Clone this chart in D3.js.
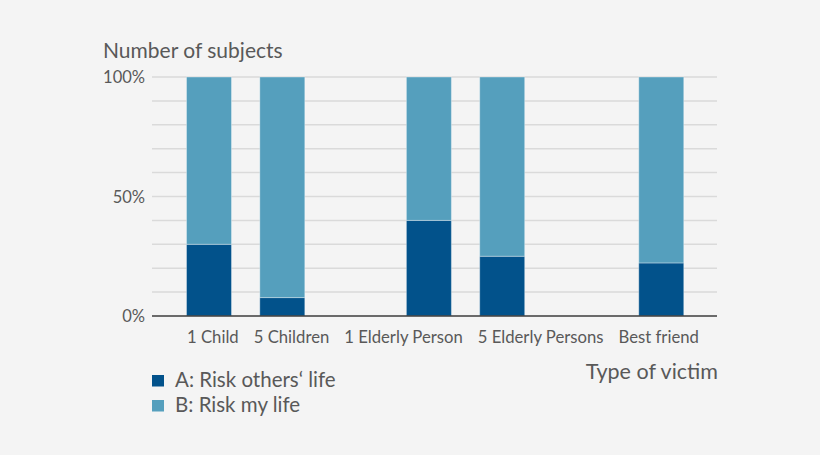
<!DOCTYPE html>
<html>
<head>
<meta charset="utf-8">
<script src="https://cdn.jsdelivr.net/npm/d3@7"></script>
<style>
  html, body { margin: 0; padding: 0; background: #f4f4f4; }
  svg { display: block; }
</style>
</head>
<body>
<svg id="chart"></svg>
<script>
// chart data
const categories = ["1 Child", "5 Children", "1 Elderly Person", "5 Elderly Persons", "Best friend"];
const riskOthers = [30, 7.7, 40, 25, 22.2];   // A, percent
const riskMine = [70, 92.3, 60, 75, 77.8];    // B, percent
const yTicks = [0, 50, 100];
const seriesNames = ["A: Risk others\u2018 life", "B: Risk my life"];

const width = 820, height = 455;
const colors = { a: "#02528b", b: "#559fbd", grid: "#dadada", axis: "#3c3c3c", text: "#595959" };
const font = "Lato, 'Open Sans', sans-serif";

// bars sit in uneven slots (gaps between groups), laid out by hand in the original
const slotOf = [0, 1, 3, 4, 6.17];

const svg = d3.select("#chart")
    .attr("width", width)
    .attr("height", height)
    .style("background-color", "#f4f4f4");

const y = d3.scaleLinear().domain([0, 100]).range([316, 77]);
const x = d3.scaleLinear().domain([0, 1]).range([209, 282.3]);
const barW = 45;

// grid lines every 10%
const grid = svg.append("g");
grid.selectAll("line")
    .data(d3.range(10, 101, 10))
    .enter().append("line")
    .attr("x1", 152).attr("x2", 717)
    .attr("y1", d => y(d)).attr("y2", d => y(d))
    .style("stroke", colors.grid)
    .style("stroke-width", 1.5);

// stacked bars
const stacked = d3.stack().keys(["a", "b"])(
    categories.map((c, i) => ({ cat: c, a: riskOthers[i], b: riskMine[i], i: i })));

const bars = svg.append("g");
stacked.forEach(function(layer) {
  bars.append("g")
      .selectAll("rect")
      .data(layer)
      .enter().append("rect")
      .attr("x", d => x(slotOf[d.data.i]) - barW / 2)
      .attr("width", barW)
      .attr("y", d => y(d[1]))
      .attr("height", d => y(d[0]) - y(d[1]))
      .style("fill", colors[layer.key])
      .style("stroke", "rgba(255,255,255,0.35)")
      .style("stroke-width", 1);
});

// baseline
svg.append("line")
    .attr("x1", 152).attr("x2", 717)
    .attr("y1", y(0)).attr("y2", y(0))
    .style("stroke", colors.axis)
    .style("stroke-width", 1.5);

// y tick labels
svg.append("g").selectAll("text")
    .data(yTicks)
    .enter().append("text")
    .attr("x", 145)
    .attr("y", d => y(d) + 6)
    .attr("text-anchor", "end")
    .text(d => d + "%")
    .style("fill", colors.text)
    .style("font-family", font)
    .style("font-size", "16.5px");

// category labels, flowed left to right under the chart
const labels = svg.append("g");
let cursor = 187;
categories.forEach(function(c) {
  const t = labels.append("text")
      .attr("x", cursor)
      .attr("y", 343)
      .text(c)
      .style("fill", colors.text)
      .style("font-family", font)
      .style("font-size", "16.7px");
  cursor += t.node().getComputedTextLength() + 15;
});

// axis titles
svg.append("text")
    .attr("x", 103).attr("y", 58)
    .text("Number of subjects")
    .style("fill", colors.text)
    .style("font-family", font)
    .style("font-size", "21px");

svg.append("text")
    .attr("x", 718).attr("y", 379)
    .attr("text-anchor", "end")
    .text("Type of victim")
    .style("fill", colors.text)
    .style("font-family", font)
    .style("font-size", "21.5px");

// legend
const legend = svg.append("g");
seriesNames.forEach(function(name, i) {
  legend.append("rect")
      .attr("x", 152).attr("y", 375 + i * 25)
      .attr("width", 12).attr("height", 11.5)
      .style("fill", i === 0 ? colors.a : colors.b);
  legend.append("text")
      .attr("x", 175).attr("y", 387 + i * 25)
      .text(name)
      .style("fill", colors.text)
      .style("font-family", font)
      .style("font-size", "20.5px");
});
</script>
</body>
</html>
